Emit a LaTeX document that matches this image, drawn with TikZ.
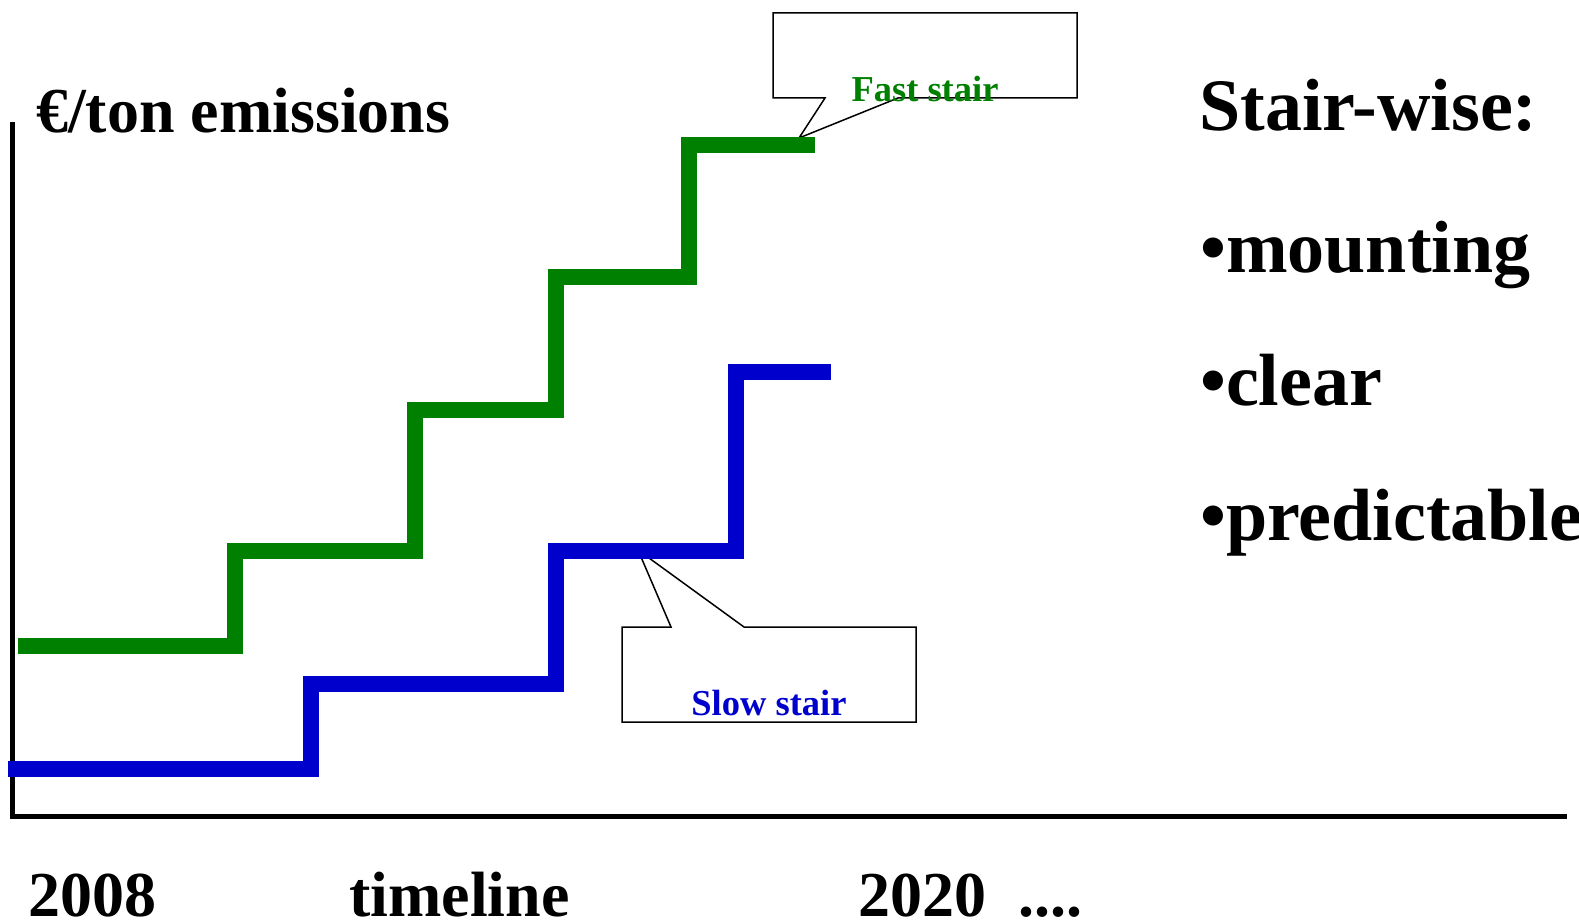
\documentclass[tikz,border=0pt]{standalone}
\usepackage{fontspec}
\setmainfont{Liberation Serif}
\definecolor{stairgreen}{HTML}{008000}
\definecolor{stairblue}{HTML}{0000CC}

\begin{document}
\begin{tikzpicture}[x=1pt, y=-1pt,
  stair/.style={line width=16pt, line join=miter, line cap=butt},
  axis/.style={line width=5pt, black, line join=miter},
  callout/.style={draw=black, line width=1.5pt, fill=white, line join=miter},
  lbl/.style={inner sep=0pt, anchor=base west},
  big/.style={font=\fontsize{74}{80}\selectfont\bfseries},
  mid/.style={font=\fontsize{64}{70}\selectfont\bfseries},
  small/.style={font=\fontsize{36.5}{40}\selectfont\bfseries, inner sep=0pt, anchor=base}]

\useasboundingbox (0,0) rectangle (1579,923);

% --- Callout boxes (drawn first, tips hide under the stairs) ---
\draw[callout] (773,13) -- (1077,13) -- (1077,98) -- (898,98)
  -- (799,138) -- (825,98) -- (773,98) -- cycle;
\draw[callout] (622,627) -- (671,627) -- (638,550) -- (744,627)
  -- (916,627) -- (916,722) -- (622,722) -- cycle;

% --- Axes ---
\draw[axis] (12,122) -- (12,816) -- (1567,816);

% --- Stairs ---
\draw[stair, stairgreen] (18,646) -- (235,646) -- (235,551) -- (415,551)
  -- (415,410) -- (556,410) -- (556,277) -- (689,277) -- (689,145) -- (815,145);
\draw[stair, stairblue] (8,769) -- (311,769) -- (311,684) -- (556,684)
  -- (556,551) -- (736,551) -- (736,372) -- (831,372);

% --- Callout labels ---
\node[small, text=stairgreen] (fast) at (925,102) {Fast stair};
\node[small, text=stairblue] (slow) at (769,715) {Slow stair};

% --- Axis labels ---
\node[lbl, mid] (ylabel) at (36,132) {€/ton emissions};
\node[lbl, mid] (start) at (28,916) {2008};
\node[lbl, mid] (timeline) at (349,916) {timeline};
\node[lbl, mid] (finish) at (858,916) {2020\ \ ....};

% --- Right-hand list ---
\node[lbl, big] (head) at (1199,131) {Stair-wise:};
\node[lbl, big] (mount) at (1200,272) {•mounting};
\node[lbl, big] (clear) at (1200,405) {•clear};
\node[lbl, big] (pred) at (1200,540) {•predictable};

\end{tikzpicture}
\end{document}
